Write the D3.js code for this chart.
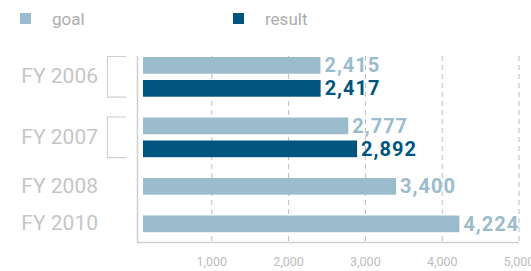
<!DOCTYPE html>
<html>
<head>
    <title></title>
    <style>
        body { margin: 0; background: #fff; }
        text { font-family: Roboto, "Noto Sans", sans-serif; }
    </style>
</head>
<body>
<div id="container"></div>

<script src="https://d3js.org/d3.v7.min.js" type="text/javascript"></script>
<script type="text/javascript">
    // data
    const categories = ['FY 2006', 'FY 2007', 'FY 2008', 'FY 2010'];
    const goal = [2415, 2777, 3400, 4224];
    const result = [2417, 2892, null, null];
    const ticks = [1000, 2000, 3000, 4000, 5000];
    const seriesNames = ['goal', 'result'];

    const w = 531, h = 271;
    const colors = { goal: '#9bbccd', result: '#00557f' };
    const gray = '#cfcfcf';

    const svg = d3.select('#container')
        .append('svg')
        .attr('width', w)
        .attr('height', h);

    const x = d3.scaleLinear().domain([0, 5000]).range([135, 519]);
    const axisX = 137.5, plotTop = 56, plotBottom = 242.5;

    // bar rows: each category gets goal + (optional) result
    const barH = 16.7, innerGap = 6.3, groupGap = 20.8;
    let rows = [], groups = [];
    let cy = 57;
    categories.forEach((c, i) => {
        let start = cy;
        rows.push({ cat: c, key: 'goal', v: goal[i], y: cy });
        cy += barH;
        if (result[i] != null) {
            cy += innerGap;
            rows.push({ cat: c, key: 'result', v: result[i], y: cy });
            cy += barH;
        }
        groups.push({ cat: c, y0: start, y1: cy, n: result[i] != null ? 2 : 1 });
        cy += groupGap;
    });

    // gridlines
    svg.append('g').selectAll('line')
        .data(ticks)
        .join('line')
        .attr('x1', d => x(d)).attr('x2', d => x(d))
        .attr('y1', plotTop).attr('y2', plotBottom)
        .style('stroke', '#bdbdbd')
        .style('stroke-width', 1)
        .style('stroke-dasharray', '5,4');

    // tick labels
    svg.append('g').selectAll('text')
        .data(ticks)
        .join('text')
        .attr('x', d => x(d))
        .attr('y', 266)
        .attr('text-anchor', 'middle')
        .style('font-size', '12.5px')
        .style('fill', '#bdbdbd')
        .text(d => d3.format(',')(d));

    // axis lines
    svg.append('path')
        .attr('d', `M${axisX},${plotTop}V${plotBottom}H${x(5000)}`)
        .style('fill', 'none')
        .style('stroke', gray)
        .style('stroke-width', 1.5);

    // bars
    svg.append('g').selectAll('rect')
        .data(rows)
        .join('rect')
        .attr('x', 143)
        .attr('y', d => d.y)
        .attr('width', d => x(d.v) - 143)
        .attr('height', barH)
        .style('fill', d => colors[d.key]);

    // value labels
    svg.append('g').selectAll('text')
        .data(rows)
        .join('text')
        .attr('x', d => x(d.v) + 4)
        .attr('y', d => d.y + barH / 2 + 7)
        .style('font-size', '20px')
        .style('font-weight', 'bold')
        .style('letter-spacing', '1px')
        .style('fill', d => colors[d.key])
        .text(d => d3.format(',')(d.v));

    // category labels
    svg.append('g').selectAll('text')
        .data(groups)
        .join('text')
        .attr('x', 98)
        .attr('y', d => (d.y0 + d.y1) / 2 + 6.5)
        .attr('text-anchor', 'end')
        .style('font-size', '21px')
        .style('fill', '#c6c6c6')
        .text(d => d.cat);

    // brackets for two-bar groups
    svg.append('g').selectAll('path')
        .data(groups.filter(d => d.n == 2))
        .join('path')
        .attr('d', d => `M126,${d.y0 - 0.5}H107.5V${d.y1 + 0.5}H126`)
        .style('fill', 'none')
        .style('stroke', gray)
        .style('stroke-width', 1.2);

    // legend
    const legX = [20, 233];
    const leg = svg.append('g').selectAll('g')
        .data(seriesNames)
        .join('g')
        .attr('transform', (d, i) => `translate(${legX[i]}, 13)`);
    leg.append('rect')
        .attr('width', 11).attr('height', 11)
        .style('fill', d => colors[d]);
    leg.append('text')
        .attr('x', 32).attr('y', 12)
        .style('font-size', '17px')
        .style('fill', '#adadad')
        .text(d => d);
</script>
</body>
</html>
